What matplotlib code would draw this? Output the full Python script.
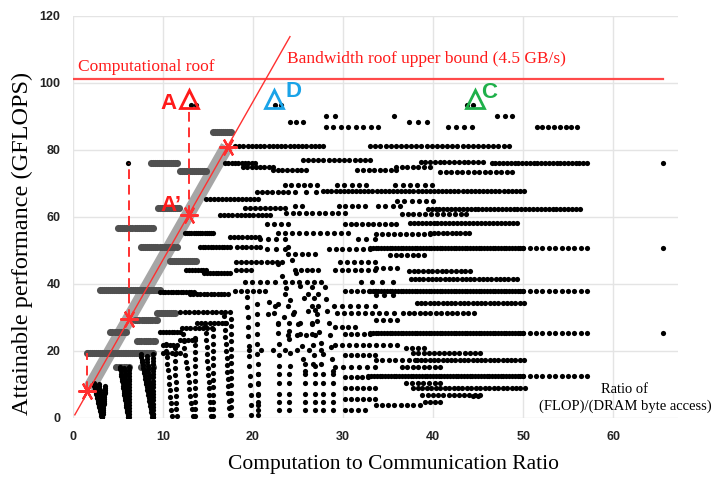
import numpy as np
import matplotlib
matplotlib.use("Agg")
import matplotlib.pyplot as plt
from matplotlib import font_manager as fm

# ---------------- data ----------------
x_ticks = [0, 10, 20, 30, 40, 50, 60]
y_ticks = [0, 20, 40, 60, 80, 100, 120]

comp_roof = 101.2            # GFLOPS
bw_slope = 4.72              # GFLOPS per (FLOP/byte)
bw_line_x = [0.2, 24.1]

# horizontal dotted runs of design points: (performance, ratio_start, ratio_end, count)
rows = [
    (93.4, 13.1, 13.7, 2), (93.4, 22.4, 23.1, 2), (93.4, 43.8, 44.4, 2),
    (90.1, 28.1, 29.1, 2), (90.1, 35.7, 35.7, 1), (90.0, 47.1, 48.8, 3),
    (88.3, 24.1, 25.5, 3), (88.3, 37.3, 39.3, 3),
    (86.8, 28.1, 33.9, 8), (86.8, 41.7, 44.3, 4), (86.8, 51.5, 56.0, 8),
    (81.0, 18.0, 27.8, 22), (81.0, 33.0, 48.4, 28),
    (77.0, 25.5, 33.0, 14), (76.0, 6.1, 6.1, 1), (76.0, 16.9, 20.2, 10),
    (74.8, 18.9, 22.2, 8), (74.0, 22.2, 25.9, 8), (74.0, 31.6, 35.9, 8),
    (75.0, 35.9, 39.6, 7), (76.4, 38.6, 45.5, 14), (76.0, 46.5, 57.1, 26),
    (76.0, 65.5, 65.5, 1), (73.5, 40.8, 48.8, 14),
    (69.5, 23.5, 27.1, 6), (69.5, 29.3, 32.6, 5), (69.6, 35.8, 39.9, 6),
    (67.5, 20.4, 23.9, 7), (67.5, 24.7, 27.0, 3), (67.6, 27.8, 50.1, 50),
    (65.4, 14.8, 20.6, 14), (64.8, 36.0, 40.0, 6),
    (63.2, 24.7, 25.4, 2), (63.2, 29.5, 32.4, 5), (63.1, 33.9, 36.3, 4),
    (62.6, 19.1, 23.5, 9), (62.3, 39.4, 56.3, 40), (61.0, 23.7, 30.2, 10),
    (60.8, 36.5, 43.7, 12), (60.6, 16.3, 21.9, 13),
    (58.0, 21.5, 23.9, 4), (58.0, 30.2, 35.9, 10), (58.1, 37.4, 49.3, 28),
    (55.2, 22.8, 30.6, 11), (55.1, 12.4, 15.6, 14), (54.9, 33.7, 39.6, 10),
    (55.1, 39.6, 44.0, 10), (54.1, 17.4, 20.7, 8), (53.5, 20.8, 23.5, 4),
    (53.5, 31.7, 33.5, 3),
    (51.1, 14.1, 17.4, 12), (51.1, 18.2, 20.8, 6), (50.5, 21.5, 23.5, 3),
    (50.5, 28.4, 33.0, 7), (50.6, 33.0, 50.0, 56), (50.6, 50.0, 57.1, 11),
    (50.6, 65.5, 65.5, 1), (49.0, 23.9, 26.9, 5), (48.6, 35.2, 39.0, 7),
    (46.5, 18.1, 23.2, 10), (46.5, 29.7, 33.5, 6),
    (44.2, 12.6, 14.8, 8), (43.2, 14.6, 17.4, 10), (44.0, 18.1, 19.8, 4),
    (44.0, 24.7, 27.2, 5), (44.0, 29.1, 33.5, 7), (44.7, 33.6, 36.0, 4),
    (43.7, 37.3, 44.1, 14), (41.4, 37.5, 49.3, 26),
    (40.5, 19.1, 22.4, 5), (40.5, 23.5, 27.6, 6), (40.7, 32.0, 35.5, 4),
    (38.0, 18.0, 20.7, 5), (38.0, 30.2, 33.5, 6), (37.7, 9.7, 13.4, 14),
    (36.9, 13.0, 17.2, 12), (37.0, 23.5, 23.5, 1), (37.0, 26.1, 27.2, 2),
    (37.9, 33.0, 50.0, 56), (37.9, 50.0, 57.1, 11), (36.7, 33.6, 35.5, 3),
    (34.2, 38.2, 50.1, 26), (33.5, 22.4, 23.9, 2), (33.5, 26.5, 27.2, 2),
    (33.5, 29.0, 33.5, 6),
    (31.5, 11.9, 17.4, 12), (31.2, 29.3, 35.6, 9), (31.4, 36.7, 44.5, 14),
    (31.0, 21.7, 27.1, 3), (29.2, 33.6, 36.0, 4), (28.3, 13.8, 17.0, 8),
    (28.2, 22.8, 26.5, 4), (27.2, 29.1, 31.3, 4), (26.8, 12.1, 15.4, 8),
    (25.6, 9.7, 11.9, 8), (25.2, 30.2, 33.0, 5), (25.5, 33.0, 50.0, 56),
    (25.5, 50.0, 57.1, 11), (25.5, 65.5, 65.5, 1), (24.7, 23.9, 26.9, 4),
    (23.4, 11.9, 13.6, 5), (21.8, 10.0, 11.5, 5), (21.8, 29.1, 36.0, 10),
    (20.2, 19.6, 27.6, 7), (20.8, 37.0, 39.0, 4),
    (19.3, 10.0, 11.9, 5), (19.3, 37.8, 45.2, 14), (18.7, 30.2, 33.5, 6),
    (17.3, 33.6, 38.0, 7), (17.3, 38.2, 50.1, 26), (16.2, 25.8, 27.6, 3),
    (15.2, 29.1, 33.5, 6), (15.3, 36.5, 40.8, 8),
    (12.2, 30.2, 32.8, 5), (12.6, 32.8, 50.0, 56), (12.6, 50.0, 57.1, 11),
    (10.3, 37.0, 40.8, 7), (8.8, 30.2, 33.5, 6), (8.8, 37.8, 50.2, 26),
    (6.9, 38.8, 45.2, 12), (6.6, 44.4, 45.0, 2), (5.8, 30.2, 33.5, 6),
    (4.9, 39.1, 40.8, 4), (3.9, 33.6, 38.5, 8), (2.3, 30.2, 32.4, 4),
]

# dense overlapping runs left of the bandwidth roof (rendered grey)
bars = [
    (85.3, 15.6, 17.6, 10), (76.0, 8.7, 11.5, 14), (73.7, 11.9, 14.8, 14),
    (62.6, 9.4, 11.8, 12), (56.6, 5.0, 8.9, 18), (51.0, 7.5, 11.5, 18),
    (46.7, 10.8, 13.7, 14), (38.1, 3.0, 9.7, 32), (31.2, 9.3, 11.3, 10),
    (29.2, 6.9, 9.3, 11), (25.6, 4.1, 5.9, 8), (23.0, 7.1, 9.1, 9),
    (19.3, 1.5, 8.9, 36), (15.3, 4.8, 6.2, 6), (15.3, 7.6, 8.9, 6),
]

# vertical / slanted columns and arcs of points: (x_top, y_top, x_bottom, y_bottom, count)
columns = [
    (2.3, 10.5, 3.2, 0.2, 22), (3.6, 9.5, 3.25, 0.2, 18), (2.9, 10.0, 3.2, 0.2, 18),
    (5.2, 15.3, 6.1, 0.3, 22), (6.2, 15.3, 6.2, 0.3, 18), (5.7, 15.0, 6.1, 0.3, 18),
    (7.5, 19.0, 8.8, 0.3, 24), (8.9, 19.0, 8.9, 0.3, 20), (8.2, 18.5, 8.9, 0.3, 20),
    (10.3, 22.0, 11.0, 0.5, 12), (11.3, 21.0, 11.5, 0.5, 11),
    (12.2, 25.0, 13.3, 0.5, 13), (13.5, 24.0, 13.6, 0.5, 12),
    (14.7, 27.5, 15.3, 0.5, 14), (15.5, 26.5, 15.6, 0.5, 13),
    (16.8, 30.5, 17.4, 1.0, 15), (17.5, 29.5, 17.5, 1.0, 14),
    (19.3, 36.0, 19.8, 1.0, 13), (20.4, 34.0, 20.6, 1.0, 12),
    (21.3, 38.0, 22.8, 28.0, 4), (22.8, 25.5, 22.9, 15.5, 4),
    (22.8, 34.0, 24.0, 26.0, 3), (24.0, 23.5, 24.1, 15.5, 3),
    (22.8, 46.0, 25.0, 28.0, 6), (25.2, 25.0, 25.8, 14.0, 4),
    (23.9, 51.0, 26.5, 28.0, 7), (26.6, 25.0, 26.9, 15.5, 4),
    (26.5, 39.0, 27.8, 19.0, 7),
    (28.0, 39.0, 28.9, 14.0, 8),
]

# lattice of points at the foot of the swirl region
swirl_col_x = [20.6, 22.9, 24.0, 25.8, 26.9, 27.8, 28.9]
swirl_col_y = [2.3, 4.8, 7.3, 10.3, 13.2]

# marked points on the bandwidth roof
star_x = [1.5, 6.2, 12.85, 17.2]
star_y = [8.1, 29.5, 60.6, 80.9]

# dashed drops: (x, y_from, y_to)
drops = [(1.5, 8.1, 19.3), (6.2, 29.5, 76.0), (12.85, 60.6, 92.0)]

# labelled design points
tri_x = [12.9, 22.3, 44.6]
tri_y = [95.3, 95.3, 95.3]
tri_lab = ["A", "D", "C"]
tri_col = ["#ff1a1a", "#1aa3e8", "#1fb04a"]
lab_x = [10.6, 24.5, 46.2]
lab_y = [93.9, 97.4, 97.0]

# ---------------- figure ----------------
names = {f.name for f in fm.fontManager.ttflist}
narrow = "Liberation Sans Narrow" if "Liberation Sans Narrow" in names else "Liberation Sans"
serif = "Liberation Serif"

fig = plt.figure(figsize=(7.24, 4.84), dpi=100)
ax = fig.add_axes([73 / 724, 66 / 484, 605 / 724, 402.3 / 484])
ax.set_xlim(0, 67.2)
ax.set_ylim(0, 120)
for s in ax.spines.values():
    s.set_visible(False)

for xv in x_ticks:
    ax.axvline(xv, color="#e4e4e4", lw=1.0, zorder=0)
for yv in y_ticks:
    ax.axhline(yv, color="#e4e4e4", lw=1.0, zorder=0)

ax.set_xticks(x_ticks)
ax.set_yticks(y_ticks)
ax.tick_params(length=0, pad=9)
for lab in ax.get_xticklabels() + ax.get_yticklabels():
    lab.set_fontfamily(narrow)
    lab.set_fontweight("bold")
    lab.set_fontsize(9)
    lab.set_color("#222222")

# grey band along roof
bx = np.array([1.8, 17.1])
ax.plot(bx, bw_slope * bx + 0.3, color="#a6a6a6", lw=9.5, solid_capstyle="butt", zorder=1)

def run_points(spec):
    xs, ys = [], []
    for y, x0, x1, n in spec:
        xs.extend(np.linspace(x0, x1, n))
        ys.extend([y] * n)
    return np.array(xs), np.array(ys)

bxs, bys = run_points(bars)
ax.scatter(bxs, bys, s=26, color="#505050", linewidths=0, zorder=2)

rxs, rys = run_points(rows)
cx, cy = [], []
for xt, yt, xb, yb, n in columns:
    cx.extend(np.linspace(xt, xb, n))
    cy.extend(np.linspace(yt, yb, n))
gx, gy = np.meshgrid(swirl_col_x, swirl_col_y)
allx = np.concatenate([rxs, cx, gx.ravel()])
ally = np.concatenate([rys, cy, gy.ravel()])
ax.scatter(allx, ally, s=14, color="black", linewidths=0, zorder=3)

# roofs
red = "#ff3030"
ax.axhline(comp_roof, xmin=0, xmax=65.5 / 67.2, color="#ff4a4a", lw=1.6, zorder=4)
lx = np.array(bw_line_x)
ax.plot(lx, bw_slope * lx, color=red, lw=1.0, zorder=5)

for x, y0, y1 in drops:
    ax.plot([x, x], [y0, y1], color=red, lw=1.4, ls=(0, (5, 3)), zorder=5)

ax.plot(star_x, star_y, ls="none", marker=(6, 2, 90), ms=13, mew=1.6, color=red, zorder=6)

for x, y, t, c, lxp, lyp in zip(tri_x, tri_y, tri_lab, tri_col, lab_x, lab_y):
    ax.plot([x], [y], marker="^", ms=13, mfc="none", mec=c, mew=2.0, zorder=7)
    ax.text(lxp, lyp, t, color=c, fontsize=16, fontfamily=narrow, fontweight="bold",
            ha="center", va="center", zorder=7)
ax.text(10.85, 63.3, "A\u2019", color="#ff1a1a", fontsize=16, fontfamily=narrow,
        fontweight="bold", ha="center", va="center", zorder=7)

ax.text(0.5, 104.7, "Computational roof", color="#ff1a1a", fontsize=12.5,
        fontfamily=serif, ha="left", va="center")
ax.text(23.8, 107.2, "Bandwidth roof upper bound (4.5 GB/s)", color="#ff1a1a",
        fontsize=12.5, fontfamily=serif, ha="left", va="center")
ax.text(61.3, 6.0, "Ratio of\n(FLOP)/(DRAM byte access)", color="black", fontsize=10.5,
        fontfamily=serif, ha="center", va="center", multialignment="center",
        linespacing=1.35, clip_on=False)

fig.text(394 / 724, 1 - 465 / 484, "Computation to Communication Ratio", fontsize=15.5,
         fontfamily=serif, ha="center", va="center")
fig.text(22 / 724, 1 - 243 / 484, "Attainable performance (GFLOPS)", fontsize=17.5,
         fontfamily=serif, ha="center", va="center", rotation=90)

fig.savefig("out.png", dpi=100)
